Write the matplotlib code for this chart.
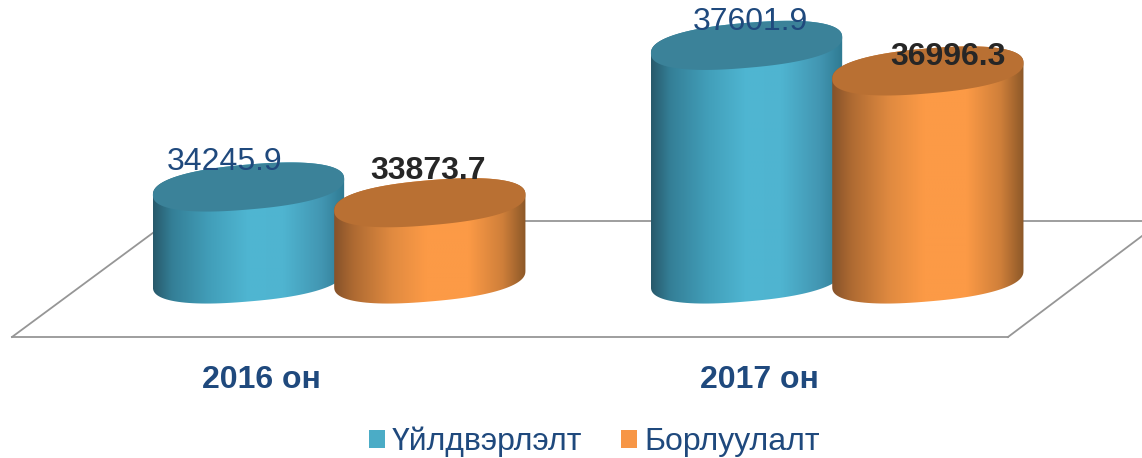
import matplotlib
matplotlib.use("Agg")
import matplotlib.pyplot as plt
from matplotlib.colors import LinearSegmentedColormap
from matplotlib.lines import Line2D
from matplotlib.patches import Patch, PathPatch, Polygon
from matplotlib.path import Path
import numpy as np

# =========================
# 0. Data
# =========================
years = ["2016 он", "2017 он"]
series_names = ["Үйлдвэрлэлт", "Борлуулалт"]
production = [34245.9, 37601.9]
sales = [33873.7, 36996.3]

# =========================
# 1. Style config
# =========================
FIG_W_PX = 1142
FIG_H_PX = 458
DPI = 100

# full-figure axes, truncated value axis as in the original chart
Y_MIN = 27824
Y_MAX = 38677
Y_BASE = 32066
X_MIN = -0.681
X_MAX = 1.612

BAR_OFFSET = 0.182
BAR_HALF = 0.192
RIM_B_PX = 22.5    # half height of the ellipse
RIM_TILT_PX = 8.0  # rim is tilted up to the right
RIM_POWER = 0.85   # below 1 gives the fuller ellipse of the original

BLUE_STOPS = [(0.0, "#28596b"), (0.1, "#347f97"), (0.3, "#429fba"), (0.5, "#4fb6d2"),
              (0.68, "#4fb4d0"), (0.88, "#4296b2"), (1.0, "#2f7a92")]
ORANGE_STOPS = [(0.0, "#86522a"), (0.1, "#ae6a32"), (0.3, "#e08a40"), (0.48, "#fc9a46"),
                (0.7, "#fc9a46"), (0.88, "#cf7f3a"), (1.0, "#8c5828")]
BLUE_TOP = "#3b8299"
ORANGE_TOP = "#b97033"
BLUE_LEGEND = "#4bacc6"
ORANGE_LEGEND = "#f79646"
NAVY = "#1f497d"
DARK = "#262626"
FLOOR_COLOR = "#969696"

plt.rcParams["font.family"] = ["Liberation Sans", "DejaVu Sans"]

fig = plt.figure(figsize=(FIG_W_PX / DPI, FIG_H_PX / DPI), dpi=DPI)
ax = fig.add_axes([0, 0, 1, 1])
ax.set_xlim(X_MIN, X_MAX)
ax.set_ylim(Y_MIN, Y_MAX)
ax.axis("off")

y_per_px = (Y_MAX - Y_MIN) / FIG_H_PX
rim_b = RIM_B_PX * y_per_px
rim_tilt = RIM_TILT_PX * y_per_px


# =========================
# 2. Floor of the 3D chart
# =========================
def fpx(x, y):
    return (x / FIG_W_PX, 1 - y / FIG_H_PX)


floor_lines = [
    [fpx(12, 337), fpx(1008, 337)],
    [fpx(12, 337), fpx(169, 221)],
    [fpx(169, 221), fpx(1142, 221)],
    [fpx(1008, 337), fpx(1142, 236)],
]
for pts in floor_lines:
    ax.add_line(Line2D([p[0] for p in pts], [p[1] for p in pts], transform=ax.transAxes,
                       color=FLOOR_COLOR, linewidth=1.3, zorder=1))


# =========================
# 3. Cylinders
# =========================
def rim(cx, y, t):
    c = np.sign(np.cos(t)) * np.abs(np.cos(t)) ** RIM_POWER
    s = np.sign(np.sin(t)) * np.abs(np.sin(t)) ** RIM_POWER
    return np.column_stack([cx + BAR_HALF * c, y + rim_b * s + rim_tilt * c])


def draw_cylinder(cx, value, stops, top_color, z):
    # body outline: top rim back half is covered by the top ellipse anyway
    lower = rim(cx, Y_BASE, np.linspace(np.pi, 2 * np.pi, 60))
    upper = rim(cx, value, np.linspace(0, np.pi, 60))
    verts = np.vstack([lower, upper])
    body = Polygon(verts, closed=True, facecolor="none", edgecolor="none", zorder=z)
    ax.add_patch(body)

    cmap = LinearSegmentedColormap.from_list("shade", stops)
    grad = np.linspace(0, 1, 256).reshape(1, -1)
    y_low = Y_BASE - rim_b * 1.5
    y_high = value + rim_b * 1.5
    im = ax.imshow(grad, cmap=cmap, aspect="auto", interpolation="bilinear", zorder=z,
                   extent=(cx - BAR_HALF, cx + BAR_HALF, y_low, y_high))
    im.set_clip_path(body)

    t = np.linspace(0, 2 * np.pi, 160)
    top = PathPatch(Path(rim(cx, value, t), closed=False), facecolor=top_color,
                    edgecolor="none", zorder=z + 0.1)
    ax.add_patch(top)


# label offsets from the top of the bar, in pixels
LABEL_OFFSETS = {
    "production": [(-24, 25), (4, 23)],
    "sales": [(-2, 32), (20, 14)],
}

for i in range(len(years)):
    left = i - BAR_OFFSET
    right = i + BAR_OFFSET
    draw_cylinder(left, production[i], BLUE_STOPS, BLUE_TOP, 2 + i * 2)
    draw_cylinder(right, sales[i], ORANGE_STOPS, ORANGE_TOP, 3 + i * 2)

    dx, dy = LABEL_OFFSETS["production"][i]
    ax.annotate(f"{production[i]:.1f}", (left, production[i]), xytext=(dx * 0.72, dy * 0.72),
                textcoords="offset points", ha="center", va="center",
                fontsize=23, color=NAVY, zorder=10)
    dx, dy = LABEL_OFFSETS["sales"][i]
    ax.annotate(f"{sales[i]:.1f}", (right, sales[i]), xytext=(dx * 0.72, dy * 0.72),
                textcoords="offset points", ha="center", va="center",
                fontsize=23, fontweight="bold", color=DARK, zorder=10)

    # category label below the floor
    ax.text(i - 0.157, 1 - 380 / FIG_H_PX, years[i], transform=ax.get_xaxis_transform(),
            ha="center", va="center", fontsize=23, fontweight="bold", color=NAVY)

# =========================
# 4. Legend
# =========================
handles = [
    Patch(facecolor=BLUE_LEGEND, edgecolor="none", label=series_names[0]),
    Patch(facecolor=ORANGE_LEGEND, edgecolor="none", label=series_names[1]),
]
fig.legend(
    handles=handles,
    loc="center",
    bbox_to_anchor=(594 / FIG_W_PX, 1 - 442 / FIG_H_PX),
    ncol=2,
    frameon=False,
    fontsize=23,
    labelcolor=NAVY,
    handlelength=0.5,
    handleheight=0.5,
    handletextpad=0.22,
    columnspacing=1.22,
    borderpad=0,
    borderaxespad=0,
)

fig.savefig("out.png", dpi=DPI)
